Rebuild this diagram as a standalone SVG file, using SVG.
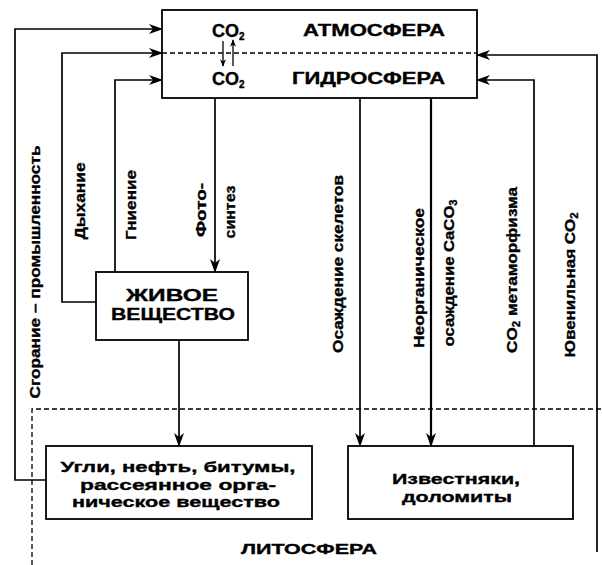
<svg xmlns="http://www.w3.org/2000/svg" width="602" height="565" viewBox="0 0 602 565">
<style>
  .box{fill:#fff;stroke:#000;stroke-width:1.8}
  .ln{fill:none;stroke:#000;stroke-width:1.7}
  .dash{fill:none;stroke:#000;stroke-width:1.3;stroke-dasharray:5,3}
  .t{font-family:"Liberation Sans",Arial,sans-serif;font-weight:bold;fill:#000;stroke:#000;stroke-width:0.35}
  .big{font-size:16px}
  .co{font-size:18px}
  .lab{font-size:15px}
  .sub{font-size:10px}
</style>
<defs>
  <marker id="ah" viewBox="0 0 14 10" refX="13" refY="5" markerWidth="14" markerHeight="10" markerUnits="userSpaceOnUse" orient="auto">
    <path d="M0,0 L14,5 L0,10 L4,5 z" fill="#000"/>
  </marker>
  <marker id="ahs" viewBox="0 0 10 8" refX="9" refY="4" markerWidth="8" markerHeight="6" markerUnits="userSpaceOnUse" orient="auto">
    <path d="M0,0 L10,4 L0,8 L3,4 z" fill="#000"/>
  </marker>
</defs>

<g id="lithosphere">
  <path class="dash" d="M32,565 L32,409 L602,409"/>
  <text class="t lab" x="309" y="554" text-anchor="middle" textLength="136" lengthAdjust="spacingAndGlyphs">ЛИТОСФЕРА</text>
</g>

<g id="atmosphere-hydrosphere">
  <rect class="box" x="162" y="10" width="315" height="88"/>
  <line class="dash" x1="162" y1="53" x2="477" y2="53"/>
  <text class="t co" x="212" y="37">CO<tspan class="sub" dy="3">2</tspan></text>
  <text class="t big" x="303" y="36" textLength="142" lengthAdjust="spacingAndGlyphs">АТМОСФЕРА</text>
  <text class="t co" x="212" y="85">CO<tspan class="sub" dy="3">2</tspan></text>
  <text class="t big" x="292" y="84" textLength="153" lengthAdjust="spacingAndGlyphs">ГИДРОСФЕРА</text>
  <line class="ln" x1="223" y1="41" x2="223" y2="66" marker-end="url(#ahs)" style="stroke-width:1.3"/>
  <line class="ln" x1="233" y1="66" x2="233" y2="40" marker-end="url(#ahs)" style="stroke-width:1.3"/>
</g>

<g id="living-matter">
  <rect class="box" x="96" y="272" width="152" height="68"/>
  <text class="t" x="172" y="301" text-anchor="middle" font-size="17" textLength="92" lengthAdjust="spacingAndGlyphs">ЖИВОЕ</text>
  <text class="t" x="173" y="320" text-anchor="middle" font-size="17" textLength="124" lengthAdjust="spacingAndGlyphs">ВЕЩЕСТВО</text>
</g>

<g id="coal-oil">
  <rect class="box" x="46" y="446" width="266" height="73"/>
  <text class="t lab" x="178" y="472" text-anchor="middle" textLength="235" lengthAdjust="spacingAndGlyphs">Угли, нефть, битумы,</text>
  <text class="t lab" x="178" y="490" text-anchor="middle" textLength="196" lengthAdjust="spacingAndGlyphs">рассеянное орга-</text>
  <text class="t lab" x="176" y="507" text-anchor="middle" textLength="208" lengthAdjust="spacingAndGlyphs">ническое вещество</text>
</g>

<g id="limestone">
  <rect class="box" x="348" y="446" width="225" height="73"/>
  <text class="t lab" x="456" y="484" text-anchor="middle" textLength="128" lengthAdjust="spacingAndGlyphs">Известняки,</text>
  <text class="t lab" x="457" y="502" text-anchor="middle" textLength="110" lengthAdjust="spacingAndGlyphs">доломиты</text>
</g>

<g id="connectors">
  <path class="ln" d="M46,480 L15,480 L15,29 L162,29" marker-end="url(#ah)"/>
  <path class="ln" d="M96,302 L62,302 L62,53 L162,53" marker-end="url(#ah)"/>
  <path class="ln" d="M115,272 L115,80 L162,80" marker-end="url(#ah)"/>
  <path class="ln" d="M215,98 L215,272" marker-end="url(#ah)"/>
  <path class="ln" d="M179,340 L179,446" marker-end="url(#ah)"/>
  <path class="ln" d="M360,98 L360,446" marker-end="url(#ah)"/>
  <path class="ln" d="M431,98 L431,446" marker-end="url(#ah)" style="stroke-width:2.2"/>
  <path class="ln" d="M534,446 L534,80 L477,80" marker-end="url(#ah)"/>
  <path class="ln" d="M597,552 L597,55 L477,55" marker-end="url(#ah)"/>
</g>

<g id="labels">
  <text class="t lab" transform="translate(40,272) rotate(-90)" text-anchor="middle" textLength="253" lengthAdjust="spacingAndGlyphs">Сгорание – промышленность</text>
  <text class="t lab" transform="translate(85,201) rotate(-90)" text-anchor="middle" textLength="77" lengthAdjust="spacingAndGlyphs">Дыхание</text>
  <text class="t lab" transform="translate(136,205) rotate(-90)" text-anchor="middle" textLength="70" lengthAdjust="spacingAndGlyphs">Гниение</text>
  <text class="t lab" transform="translate(206,210) rotate(-90)" text-anchor="middle" textLength="54" lengthAdjust="spacingAndGlyphs">Фото-</text>
  <text class="t lab" transform="translate(235,212) rotate(-90)" text-anchor="middle" textLength="53" lengthAdjust="spacingAndGlyphs">синтез</text>
  <text class="t lab" transform="translate(343,264) rotate(-90)" text-anchor="middle" textLength="178" lengthAdjust="spacingAndGlyphs">Осаждение скелетов</text>
  <text class="t lab" transform="translate(424,278) rotate(-90)" text-anchor="middle" textLength="140" lengthAdjust="spacingAndGlyphs">Неорганическое</text>
  <text class="t lab" transform="translate(454,273) rotate(-90)" text-anchor="middle" textLength="147" lengthAdjust="spacingAndGlyphs">осаждение CaCO<tspan class="sub" dy="3">3</tspan></text>
  <text class="t lab" transform="translate(517,270) rotate(-90)" text-anchor="middle" textLength="166" lengthAdjust="spacingAndGlyphs">CO<tspan class="sub" dy="3">2</tspan><tspan dy="-3"> метаморфизма</tspan></text>
  <text class="t lab" transform="translate(575,285) rotate(-90)" text-anchor="middle" textLength="145" lengthAdjust="spacingAndGlyphs">Ювенильная CO<tspan class="sub" dy="3">2</tspan></text>
</g>
</svg>
